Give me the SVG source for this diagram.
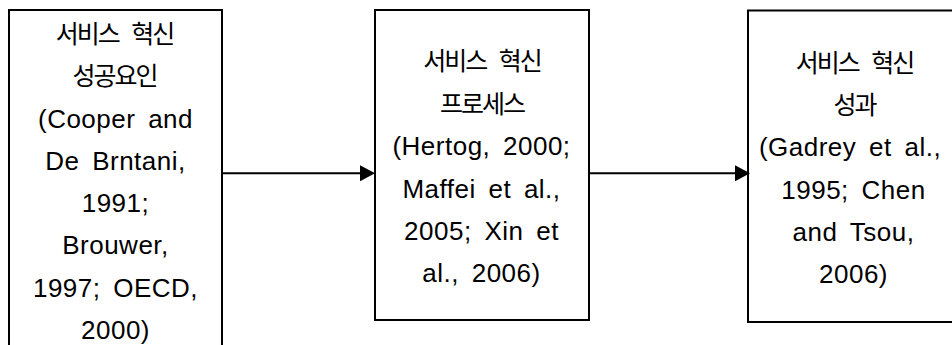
<svg xmlns="http://www.w3.org/2000/svg" width="952" height="345" viewBox="0 0 952 345">
<style>
.box{fill:#fff;stroke:#000;stroke-width:2}
.kr{font-family:"Noto Sans CJK KR",sans-serif;font-size:25px;letter-spacing:-2px;word-spacing:9px;fill:#000;text-anchor:middle}
.en{font-family:"Liberation Sans",Arial,sans-serif;font-size:26px;letter-spacing:0.5px;word-spacing:5px;fill:#000;text-anchor:middle}
.conn{stroke:#000;stroke-width:2;fill:none}
</style>
<defs>
<marker id="ah" markerUnits="userSpaceOnUse" markerWidth="15" markerHeight="16" refX="12" refY="8" orient="auto">
<path d="M0,0 L15,8 L0,16 Z" fill="#000"/>
</marker>
</defs>
<rect width="952" height="345" fill="#fff"/>
<g id="node-success-factors">
<rect class="box" x="9" y="10" width="213" height="400" stroke-width="2.5"/>
<text class="kr" x="114.5" y="42.5">서비스 혁신</text>
<text class="kr" x="114.5" y="84.75">성공요인</text>
<text class="en" x="115.5" y="127.5">(Cooper and</text>
<text class="en" x="115.5" y="169.75">De Brntani,</text>
<text class="en" x="115.5" y="212">1991;</text>
<text class="en" x="115.5" y="254.25">Brouwer,</text>
<text class="en" x="115.5" y="296.5">1997; OECD,</text>
<text class="en" x="115.5" y="338.75">2000)</text>
</g>
<g id="node-process">
<rect class="box" x="375" y="10" width="214" height="310"/>
<text class="kr" x="482" y="70">서비스 혁신</text>
<text class="kr" x="482" y="112.5">프로세스</text>
<text class="en" x="481.5" y="155">(Hertog, 2000;</text>
<text class="en" x="481.5" y="197.5">Maffei et al.,</text>
<text class="en" x="481.5" y="240">2005; Xin et</text>
<text class="en" x="481.5" y="282">al., 2006)</text>
</g>
<g id="node-performance">
<rect class="box" x="748" y="10.5" width="212" height="311.5"/>
<text class="kr" x="854.5" y="71.5">서비스 혁신</text>
<text class="kr" x="854.5" y="114">성과</text>
<text class="en" x="850" y="156">(Gadrey et al.,</text>
<text class="en" x="853.5" y="198.5">1995; Chen</text>
<text class="en" x="853.5" y="240.5">and Tsou,</text>
<text class="en" x="853.5" y="283">2006)</text>
</g>
<g id="connectors">
<line class="conn" x1="223" y1="173.3" x2="372" y2="173.3" marker-end="url(#ah)"/>
<line class="conn" x1="589" y1="173.3" x2="747" y2="173.3" marker-end="url(#ah)"/>
</g>
</svg>
